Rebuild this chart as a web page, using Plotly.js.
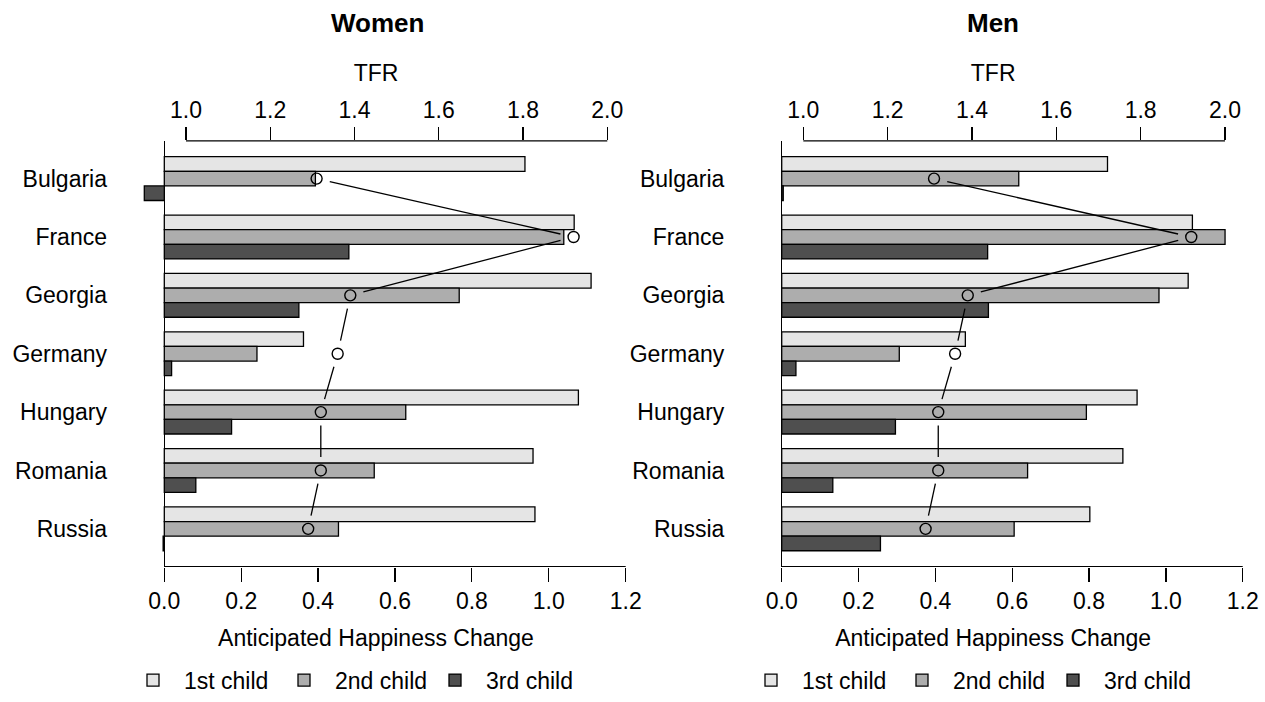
<!DOCTYPE html>
<html><head><meta charset="utf-8">
<script src="https://cdn.plot.ly/plotly-3.0.1.min.js"></script>
<style>html,body{margin:0;padding:0;background:#fff}#chart{width:1265px;height:702px}</style>
</head><body><div id="chart"></div>
<script>
// ---- data ----
const countries = ['Bulgaria','France','Georgia','Germany','Hungary','Romania','Russia'];
const seriesNames = ['1st child','2nd child','3rd child'];
const women1 = [0.938,1.066,1.110,0.362,1.077,0.959,0.964];
const women2 = [0.393,1.039,0.767,0.241,0.628,0.546,0.453];
const women3 = [-0.052,0.480,0.350,0.019,0.175,0.082,-0.003];
const men1 = [0.848,1.069,1.058,0.478,0.925,0.888,0.802];
const men2 = [0.617,1.154,0.982,0.306,0.793,0.640,0.605];
const men3 = [0.004,0.536,0.538,0.037,0.296,0.133,0.257];
const tfr = [1.31,1.92,1.39,1.36,1.32,1.32,1.29];
const happinessTicks = [0,0.2,0.4,0.6,0.8,1.0,1.2];
const tfrTicks = [1.0,1.2,1.4,1.6,1.8,2.0];
const panelTitles = ['Women','Men'];

// ---- style ----
const W = 1265, H = 702;
const FONT = 'Liberation Sans, Arial, Helvetica, sans-serif';
const FS = 23;
const colors = ['#e5e5e5','#adadad','#4f4f4f'];
const GAP = 13.5;
const px = v => v / W;
const py = v => 1 - v / H;
const ypos = countries.map((c, i) => i);
const yDom = [py(574.7), py(143)];

function bars(vals, k, xa, ya, leg) {
  return {
    type: 'bar', orientation: 'h', x: vals, y: ypos, name: seriesNames[k],
    xaxis: xa, yaxis: ya, legend: leg,
    marker: {color: colors[k], line: {color: '#000', width: 1.3}},
    hoverinfo: 'skip'
  };
}
function pts(xa, ya) {
  return {type: 'scatter', mode: 'markers', x: tfr, y: ypos, xaxis: xa, yaxis: ya,
    showlegend: false, hoverinfo: 'skip',
    marker: {symbol: 'circle-open', size: 11, color: '#000', line: {width: 1.4, color: '#000'}}};
}
function lines(xa, ya) {
  return {type: 'scatter', mode: 'lines', x: [], y: [], xaxis: xa, yaxis: ya,
    showlegend: false, hoverinfo: 'skip', line: {color: '#000', width: 1.3}};
}

const data = [
  bars(women1, 0, 'x', 'y', 'legend'),
  bars(women2, 1, 'x', 'y', 'legend'),
  bars(women3, 2, 'x', 'y', 'legend'),
  bars(men1, 0, 'x2', 'y2', 'legend2'),
  bars(men2, 1, 'x2', 'y2', 'legend2'),
  bars(men3, 2, 'x2', 'y2', 'legend2'),
  lines('x3', 'y'),
  pts('x3', 'y'),
  lines('x4', 'y2'),
  pts('x4', 'y2')
];

function bottomAxis(domain, range, anchor) {
  return {
    domain: domain, range: range, anchor: anchor,
    tickvals: happinessTicks, tickformat: '.1f',
    ticks: 'outside', ticklen: 14, tickwidth: 1.2, tickcolor: '#000',
    showline: false, showgrid: false,
    zeroline: true, zerolinecolor: '#000', zerolinewidth: 1.2,
    tickfont: {family: FONT, size: FS, color: '#000'},
    title: {text: 'Anticipated Happiness Change', font: {family: FONT, size: FS, color: '#000'}, standoff: 16},
    fixedrange: true
  };
}
function topAxis(over, range, anchor) {
  return {
    overlaying: over, side: 'top', anchor: anchor, range: range,
    tickvals: tfrTicks, tickformat: '.1f',
    ticks: 'outside', ticklen: 12.7, tickwidth: 1.2, tickcolor: '#000',
    showline: false, showgrid: false, zeroline: false,
    tickfont: {family: FONT, size: FS, color: '#000'},
    title: {text: 'TFR', font: {family: FONT, size: FS, color: '#000'}, standoff: 9},
    fixedrange: true
  };
}
function leftAxis(anchor) {
  return {
    domain: yDom, range: [6.645, -0.645], anchor: anchor,
    tickvals: ypos, ticktext: countries, ticks: '',
    showline: false, showgrid: false, zeroline: false,
    tickfont: {family: FONT, size: FS, color: '#000'},
    ticklabelstandoff: 18,
    fixedrange: true
  };
}
function axisShapes(xb, xt, ya) {
  return [
    {type: 'line', xref: xb, yref: ya + ' domain', x0: happinessTicks[0], x1: happinessTicks[happinessTicks.length - 1], y0: 0, y1: 0, line: {color: '#000', width: 1.2}},
    {type: 'line', xref: xt, yref: ya + ' domain', x0: tfrTicks[0], x1: tfrTicks[tfrTicks.length - 1], y0: 1, y1: 1, line: {color: '#000', width: 1.2}}
  ];
}
function legendCfg(x) {
  return {orientation: 'h', x: x, xanchor: 'left', y: py(690), yanchor: 'middle',
    font: {family: FONT, size: FS, color: '#000'}, bgcolor: 'rgba(0,0,0,0)',
    itemwidth: 52, entrywidth: 84, entrywidthmode: 'pixels',
    traceorder: 'normal', itemclick: false, itemdoubleclick: false};
}

const layout = {
  width: W, height: H, margin: {l: 0, r: 0, t: 0, b: 0},
  paper_bgcolor: '#fff', plot_bgcolor: 'rgba(0,0,0,0)',
  font: {family: FONT, size: FS, color: '#000'},
  barmode: 'group', bargap: 0.25, bargroupgap: 0,
  xaxis: bottomAxis([px(126), px(626)], [-0.0996, 1.2008], 'y'),
  xaxis2: bottomAxis([px(743.3), px(1243)], [-0.1, 1.2007], 'y2'),
  xaxis3: topAxis('x', [0.8576, 2.0444], 'y'),
  xaxis4: topAxis('x2', [0.8577, 2.0427], 'y2'),
  yaxis: leftAxis('x'),
  yaxis2: leftAxis('x2'),
  legend: legendCfg(px(122)),
  legend2: legendCfg(px(740)),
  shapes: axisShapes('x', 'x3', 'y').concat(axisShapes('x2', 'x4', 'y2')),
  annotations: panelTitles.map((t, i) => ({
    text: '<b>' + t + '</b>', xref: 'paper', yref: 'paper',
    x: px(i === 0 ? 377 : 993), y: py(23), xanchor: 'center', yanchor: 'middle',
    showarrow: false, font: {family: FONT, size: 26, color: '#000'}
  })),
  showlegend: true
};

const gd = document.getElementById('chart');
Plotly.newPlot(gd, data, layout, {displayModeBar: false, staticPlot: true}).then(() => {
  const fl = gd._fullLayout;
  function gapped(xa, ya) {
    const xs = [], ys = [];
    for (let i = 0; i < tfr.length - 1; i++) {
      const x0 = xa.l2p(tfr[i]), y0 = ya.l2p(ypos[i]);
      const x1 = xa.l2p(tfr[i + 1]), y1 = ya.l2p(ypos[i + 1]);
      const dx = x1 - x0, dy = y1 - y0, d = Math.hypot(dx, dy);
      if (d <= 2 * GAP) continue;
      const ux = dx / d, uy = dy / d;
      xs.push(xa.p2l(x0 + ux * GAP), xa.p2l(x1 - ux * GAP), null);
      ys.push(ya.p2l(y0 + uy * GAP), ya.p2l(y1 - uy * GAP), null);
    }
    return [xs, ys];
  }
  const a = gapped(fl.xaxis3, fl.yaxis);
  const b = gapped(fl.xaxis4, fl.yaxis2);
  return Plotly.restyle(gd, {x: [a[0], b[0]], y: [a[1], b[1]]}, [6, 8]);
});
</script>
</body></html>
